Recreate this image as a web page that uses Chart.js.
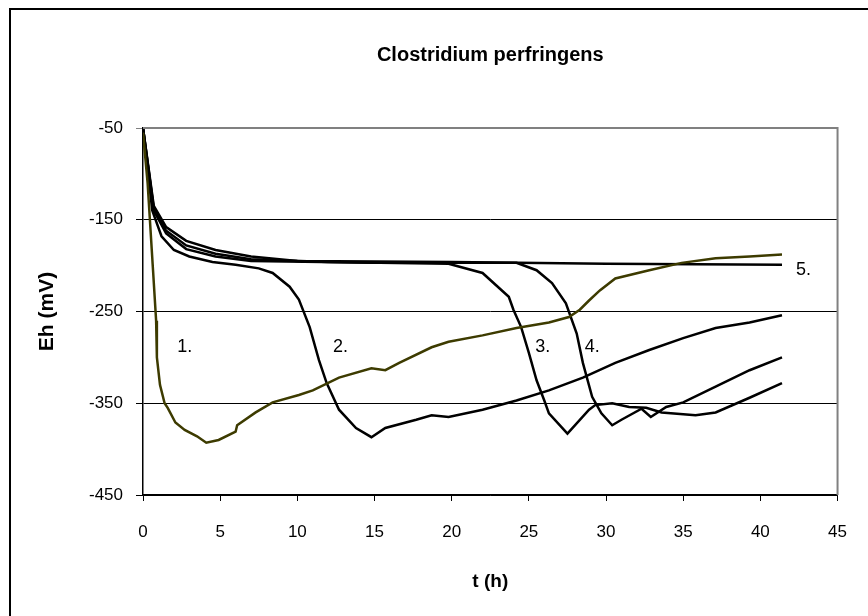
<!DOCTYPE html>
<html>
<head>
<meta charset="utf-8">
<script src="https://cdn.jsdelivr.net/npm/chart.js@4"></script>
<style>
  body { margin: 0; background: #fff; }
  canvas { display: block; }
</style>
</head>
<body>
<canvas id="js--chart" width="868" height="616"></canvas>
<script>
// Eh verloop per kweek (5 curves)
const xTicks = [0, 5, 10, 15, 20, 25, 30, 35, 40, 45];
const yTicks = [-450, -350, -250, -150, -50];

const t1 = [0, 0.3, 0.65, 0.85, 0.9, 1.1, 1.4, 1.6, 2.1, 2.7, 3.5, 4.1, 4.9, 6.0, 6.1, 7.3, 8.4, 10.1, 11, 12.7, 14.8, 15.7, 16.6, 18.7, 19.8, 22, 24.2, 26.3, 27.6, 28.3, 28.9, 29.6, 30.6, 32.8, 34.9, 37.1, 39.3, 41.4];
const eh1 = [-55, -110, -205, -260, -300, -330, -350, -355, -371, -379, -386, -393, -390, -381, -374, -360, -349, -341, -336, -322, -312, -314, -306, -289, -283, -276, -268, -262, -256, -248, -238, -227, -214, -205, -197, -192, -190, -188];

const t2 = [0, 0.6, 1.2, 2, 3, 4.5, 6, 7.5, 8.4, 9.5, 10.1, 10.8, 11.4, 11.9, 12.7, 13.8, 14.8, 15.7, 17.7, 18.7, 19.8, 22, 24.2, 26.3, 28.5, 30.6, 32.8, 35, 37.1, 39.3, 41.4];
const eh2 = [-50, -140, -168, -183, -190, -196, -199, -203, -208, -223, -237, -267, -303, -328, -357, -377, -387, -377, -368, -363, -365, -357, -347, -336, -322, -306, -292, -279, -268, -262, -254];

const t3 = [0, 0.7, 1.5, 2.8, 4.7, 7, 12, 19.8, 22, 23.7, 24, 24.5, 25, 25.5, 26, 26.3, 27.5, 28.9, 29.3, 30.4, 31.5, 32.6, 33.6, 35.8, 37.1, 39.3, 41.4];
const eh3 = [-50, -138, -162, -178, -187, -193, -196, -198, -208, -234, -248, -267, -295, -325, -347, -361, -383, -357, -352, -350, -354, -355, -360, -363, -360, -344, -328];

const t4 = [0, 0.7, 1.5, 2.8, 4.7, 7, 15, 24.2, 25.5, 26.5, 27.4, 28.1, 28.5, 29.1, 29.7, 30.4, 31, 32.3, 32.9, 33.9, 35, 37.1, 39.3, 41.4];
const eh4 = [-50, -140, -165, -182, -190, -195, -197, -197, -205, -219, -241, -274, -306, -343, -361, -374, -368, -356, -365, -354, -349, -332, -314, -300];

const t5 = [0, 0.7, 1.5, 2.8, 4.7, 7, 10, 20, 30, 41.4];
const eh5 = [-50, -135, -158, -173, -183, -190, -195, -196, -198, -199];

// labels bij de curves
const curveNames = ["1.", "2.", "3.", "4.", "5."];
const nameT = [2.7, 12.8, 25.9, 29.1, 42.8];
const nameEh = [-289, -289, -289, -289, -205];

const FONT = '"Liberation Sans", Arial, sans-serif';

function pts(t, eh) {
    return t.map((v, i) => ({x: v, y: eh[i]}));
}

function line(t, eh, color) {
    return {
        data: pts(t, eh),
        borderColor: color,
        borderWidth: 2.5,
        pointRadius: 0,
        tension: 0,
        fill: false,
    };
}

const data = {
    datasets: [
        line(t1, eh1, '#3d3b00'),
        line(t2, eh2, '#000000'),
        line(t3, eh3, '#000000'),
        line(t4, eh4, '#000000'),
        line(t5, eh5, '#000000'),
    ]
};

const extras = {
    id: 'extras',
    beforeDraw(chart) {
        const {ctx, chartArea} = chart;
        ctx.save();
        ctx.fillStyle = '#fff';
        ctx.fillRect(0, 0, chart.width, chart.height);
        // kader om de grafiek
        ctx.strokeStyle = '#000';
        ctx.lineWidth = 2;
        ctx.beginPath();
        ctx.moveTo(10, chart.height);
        ctx.lineTo(10, 9);
        ctx.lineTo(chart.width, 9);
        ctx.stroke();
        // titel, gecentreerd boven het plotvlak
        ctx.font = 'bold 20px ' + FONT;
        ctx.fillStyle = '#000';
        ctx.textAlign = 'center';
        ctx.textBaseline = 'middle';
        ctx.fillText('Clostridium perfringens', (chartArea.left + chartArea.right) / 2, 55);
        ctx.restore();
    },
    afterDatasetsDraw(chart) {
        const {ctx, chartArea, scales: {x, y}} = chart;
        ctx.save();
        ctx.strokeStyle = '#808080';
        ctx.lineWidth = 2;
        ctx.beginPath();
        ctx.moveTo(chartArea.left, chartArea.top);
        ctx.lineTo(chartArea.right, chartArea.top);
        ctx.lineTo(chartArea.right, chartArea.bottom);
        ctx.stroke();
        ctx.font = '18px ' + FONT;
        ctx.fillStyle = '#000';
        ctx.textAlign = 'center';
        ctx.textBaseline = 'middle';
        curveNames.forEach((name, i) => {
            ctx.fillText(name, x.getPixelForValue(nameT[i]), y.getPixelForValue(nameEh[i]));
        });
        ctx.restore();
    }
};

const config = {
    type: 'line',
    data: data,
    plugins: [extras],
    options: {
        responsive: false,
        animation: false,
        devicePixelRatio: 1,
        layout: { padding: { left: 0, right: 30, top: 128, bottom: 0 } },
        plugins: {
            legend: { display: false },
            tooltip: { enabled: false },
            title: { display: false },
        },
        scales: {
            x: {
                type: 'linear',
                min: xTicks[0],
                max: xTicks[xTicks.length - 1],
                afterBuildTicks: (s) => { s.ticks = xTicks.map(v => ({value: v})); },
                afterFit: (s) => { s.height = 121; },
                ticks: { color: '#000', font: { family: FONT, size: 17 }, padding: 21, maxRotation: 0 },
                grid: { drawOnChartArea: false, drawTicks: true, tickLength: 6, color: '#000' },
                border: { color: '#000', width: 1.5 },
                title: {
                    display: true, text: 't (h)', color: '#000',
                    font: { family: FONT, size: 19, weight: 'bold' },
                    padding: { top: 0, bottom: 23 },
                },
            },
            y: {
                type: 'linear',
                min: yTicks[0],
                max: yTicks[yTicks.length - 1],
                afterBuildTicks: (s) => { s.ticks = yTicks.map(v => ({value: v})); },
                afterFit: (s) => { s.width = 143; },
                ticks: { color: '#000', font: { family: FONT, size: 17 }, padding: 13 },
                grid: {
                    color: (c) => (c.tick && c.tick.value === -50) ? '#808080' : '#000',
                    lineWidth: 1,
                    tickLength: 7,
                },
                border: { color: '#000', width: 1.5 },
                title: {
                    display: true, text: 'Eh (mV)', color: '#000',
                    font: { family: FONT, size: 21, weight: 'bold' },
                    padding: { top: 35, bottom: 0 },
                },
            },
        },
    },
};

const chart = new Chart(document.getElementById("js--chart"), config);
</script>
</body>
</html>
